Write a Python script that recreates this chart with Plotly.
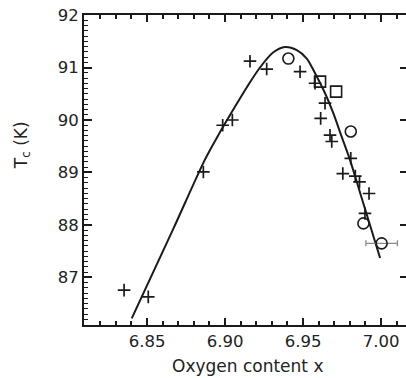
import plotly.graph_objects as go

curve_x = [6.8402, 6.8669, 6.8872, 6.8968, 6.9053, 6.9139, 6.9224, 6.9310, 6.9385,
           6.9460, 6.9524, 6.9577, 6.9641, 6.9694, 6.9748, 6.9801, 6.9865, 6.9929, 6.9994]
curve_y = [86.22, 87.93, 89.25, 89.77, 90.20, 90.62, 91.00, 91.29, 91.39,
           91.33, 91.17, 90.89, 90.51, 90.13, 89.68, 89.24, 88.62, 88.00, 87.37]

# crosses
cross_x = [6.8353, 6.8508, 6.8861, 6.8985, 6.9047, 6.9160, 6.9267, 6.9481, 6.9577, 6.9641,
           6.9613, 6.9673, 6.9684, 6.9806, 6.9755, 6.9835, 6.9862, 6.9923, 6.9897]
cross_y = [86.76, 86.63, 89.01, 89.90, 90.00, 91.12, 90.97, 90.92, 90.70, 90.32,
           90.03, 89.71, 89.59, 89.27, 88.98, 88.93, 88.82, 88.60, 88.22]

# circles
circle_x = [6.9406, 6.9806, 6.9887]
circle_y = [91.17, 89.78, 88.03]

# circle with horizontal error bar
circle_err_x = [7.0004]
circle_err_y = [87.65]
circle_err = [0.0101]

# squares
square_x = [6.9609, 6.9712]
square_y = [90.73, 90.54]

x_ticks = [6.85, 6.90, 6.95, 7.00]
x_ticklabels = ["6.85", "6.90", "6.95", "7.00"]
y_ticks = [87, 88, 89, 90, 91, 92]

ink = "#1a1a1a"
txt = "#222222"
font = "DejaVu Sans"

fig = go.Figure()
fig.add_trace(go.Scatter(x=curve_x, y=curve_y, mode="lines",
                         line=dict(color=ink, width=2, shape="spline", smoothing=0.8),
                         hoverinfo="skip", showlegend=False))
fig.add_trace(go.Scatter(x=cross_x, y=cross_y, mode="markers",
                         marker=dict(symbol="cross-thin", size=9,
                                     line=dict(color=ink, width=1.7)),
                         showlegend=False))
fig.add_trace(go.Scatter(x=circle_x, y=circle_y, mode="markers",
                         marker=dict(symbol="circle-open", size=11, color=ink,
                                     line=dict(color=ink, width=1.6)),
                         showlegend=False))
fig.add_trace(go.Scatter(x=circle_err_x, y=circle_err_y, mode="markers",
                         marker=dict(symbol="circle-open", size=11, color=ink,
                                     line=dict(color=ink, width=1.6)),
                         error_x=dict(type="data", array=circle_err, symmetric=True,
                                      color="#8a8a8a", thickness=1.3, width=3),
                         showlegend=False))
fig.add_trace(go.Scatter(x=square_x, y=square_y, mode="markers",
                         marker=dict(symbol="square-open", size=11, color=ink,
                                     line=dict(color=ink, width=1.6)),
                         showlegend=False))
# invisible trace that carries the right-hand tick axis
fig.add_trace(go.Scatter(x=[6.9], y=[90], yaxis="y2", mode="markers",
                         marker=dict(opacity=0), showlegend=False, hoverinfo="skip"))

fig.update_layout(
    width=406, height=378,
    margin=dict(l=84, r=0, t=15, b=53),
    paper_bgcolor="white", plot_bgcolor="white",
    font=dict(family=font, size=16.5, color=txt),
    xaxis=dict(range=[6.8096, 7.016], tickvals=x_ticks, ticktext=x_ticklabels,
               ticks="inside", ticklen=7, tickwidth=1.5, tickcolor=ink,
               showline=True, linecolor=ink, linewidth=2, mirror="ticks",
               showgrid=False, zeroline=False,
               minor=dict(dtick=0.01, tick0=6.80, ticks="inside", ticklen=4,
                          tickwidth=1.5, tickcolor=ink, showgrid=False),
               tickfont=dict(family=font, size=16.5, color=txt)),
    yaxis=dict(range=[86.095, 92.0], tickvals=y_ticks,
               ticks="inside", ticklen=8, tickwidth=1.5, tickcolor=ink,
               showline=True, linecolor=ink, linewidth=2, mirror=False,
               showgrid=False, zeroline=False,
               minor=dict(dtick=0.1, tick0=86, ticks="inside", ticklen=4,
                          tickwidth=1.2, tickcolor=ink, showgrid=False),
               tickfont=dict(family=font, size=16.5, color=txt)),
    yaxis2=dict(range=[86.095, 92.0], tickvals=y_ticks, overlaying="y", side="right",
                ticks="inside", ticklen=6, tickwidth=1.5, tickcolor=ink,
                showticklabels=False, showline=False, showgrid=False, zeroline=False),
    annotations=[
        dict(text="T<sub>c</sub> (K)", xref="paper", yref="paper",
             x=-0.1925, y=0.58, xanchor="center", yanchor="middle",
             textangle=-90, showarrow=False,
             font=dict(family=font, size=17, color=txt)),
        dict(text="Oxygen content x", xref="paper", yref="paper",
             x=0.508, y=-0.132, xanchor="center", yanchor="middle",
             showarrow=False, font=dict(family=font, size=17, color=txt)),
    ],
)

fig.write_html("out.html")
